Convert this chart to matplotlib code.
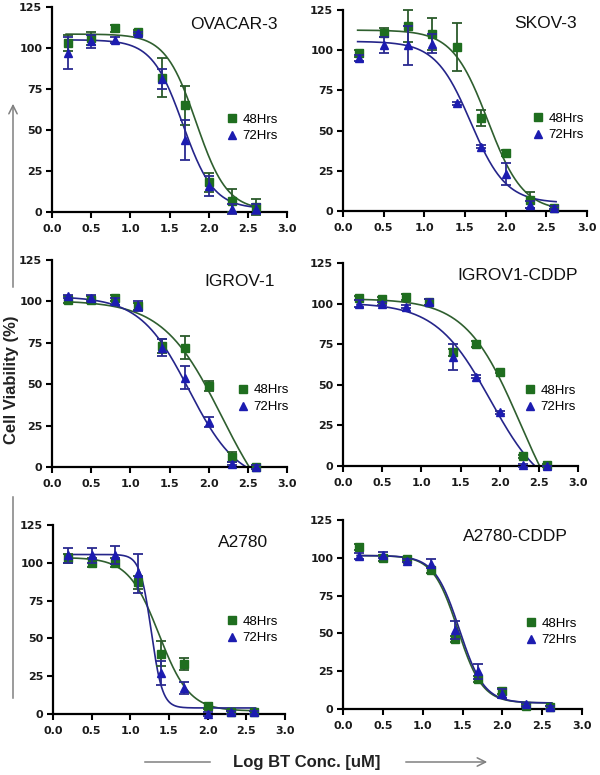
import numpy as np
import matplotlib
matplotlib.use("Agg")
import matplotlib.pyplot as plt
from matplotlib.lines import Line2D
from matplotlib.patches import FancyArrowPatch

# log concentration of BT (uM)
log_conc = [0.2, 0.5, 0.8, 1.1, 1.4, 1.7, 2.0, 2.3, 2.6]

cell_lines = ["OVACAR-3", "SKOV-3", "IGROV-1", "IGROV1-CDDP", "A2780", "A2780-CDDP"]

# mean viability (%) and error, 48 hrs
via_48 = [
    [103, 106, 112, 110, 82, 65, 18, 7, 3],
    [98, 111, 115, 110, 102, 58, 36, 7, 2],
    [101, 101, 102, 97, 73, 72, 49, 6, 0],
    [103.5, 103, 104, 101, 70, 75, 58, 6, 0.5],
    [103, 100, 100, 87, 40, 33, 5, 1, 1],
    [107, 100, 99, 92, 46, 20, 12, 2, 1],
]
err_48 = [
    [5, 4, 2, 1, 12, 12, 6, 7, 5],
    [2, 3, 10, 10, 15, 5, 2, 5, 1],
    [2, 2, 2, 2, 4, 7, 3, 3, 1],
    [1, 1, 2, 2, 2, 2, 1, 1, 1],
    [3, 3, 3, 4, 8, 4, 2, 1, 1],
    [2, 2, 1, 2, 2, 2, 2, 1, 1],
]

# mean viability (%) and error, 72 hrs
via_72 = [
    [97, 104, 105, 109, 81, 44, 16, 2, 2],
    [95, 103, 103, 104, 67, 40, 23, 4, 2],
    [103, 102, 100, 97, 72, 54, 27, 2, 0],
    [100, 100, 98, 101, 67, 55, 33, 0.5, 0],
    [105, 105, 105, 93, 27, 17, 0, 1, 1],
    [101, 102, 98, 96, 52, 25, 10, 3, 1],
]
err_72 = [
    [10, 4, 2, 1, 6, 12, 6, 3, 3],
    [2, 5, 12, 6, 1, 1, 7, 2, 1],
    [1, 2, 2, 3, 5, 7, 3, 1, 1],
    [2, 1, 1, 2, 8, 1, 1, 1, 0],
    [5, 5, 6, 13, 8, 4, 1, 1, 1],
    [2, 2, 1, 3, 6, 5, 3, 1, 1],
]

# fitted dose-response curves: top, bottom, logIC50, hill slope
fit_48 = [
    (108.5, 1, 1.84, 2.2),
    (112.5, 0, 1.78, 2.0),
    (100.5, -40, 2.17, 1.15),
    (103, -50, 2.26, 1.255),
    (103.5, 2, 1.37, 2.2),
    (101.5, 4, 1.44, 2.8),
]
fit_72 = [
    (105, 2, 1.67, 2.2),
    (105.5, 5, 1.57, 2.0),
    (103, -10, 1.749, 1.386),
    (100.5, -20, 1.885, 1.24),
    (105.5, 4, 1.27, 6.0),
    (101.5, 4, 1.46, 2.8),
]

W, H = 600, 775
# axes boxes in pixels: left, right, top, bottom
boxes = [(52, 287, 7, 212), (343, 587, 10, 211),
         (52, 287, 260, 467), (343, 578, 263, 466),
         (53, 285, 525, 714), (343, 582, 520, 709)]
title_pos = [(0.96, 0.917), (0.96, 0.935), (0.95, 0.894),
             (1.0, 0.936), (0.927, 0.905), (0.94, 0.915)]
legend_pos = [(0.743, 0.481), (0.777, 0.491), (0.790, 0.40),
              (0.773, 0.402), (0.749, 0.522), (0.764, 0.485)]

GREEN = "#1f6e1f"
GREEN_LINE = "#2f5f2f"
BLUE = "#1c1cb0"
BLUE_LINE = "#25258a"


def four_pl(x, top, bottom, logic50, hill):
    return bottom + (top - bottom) / (1 + 10 ** ((x - logic50) * hill))


fig = plt.figure(figsize=(W / 100, H / 100), dpi=100)
xs = np.linspace(0.18, 2.62, 300)

for i, name in enumerate(cell_lines):
    l, r, t, b = boxes[i]
    ax = fig.add_axes([l / W, 1 - b / H, (r - l) / W, (b - t) / H])

    ax.plot(xs, four_pl(xs, *fit_48[i]), color=GREEN_LINE, lw=1.2, zorder=2)
    ax.plot(xs, four_pl(xs, *fit_72[i]), color=BLUE_LINE, lw=1.2, zorder=2)

    ax.errorbar(log_conc, via_48[i], yerr=err_48[i], fmt="s", color=GREEN,
                ms=5.5, ecolor="#2b5a2b", elinewidth=1.3, capsize=3.5,
                capthick=1.3, clip_on=False, zorder=3)
    ax.errorbar(log_conc, via_72[i], yerr=err_72[i], fmt="^", color=BLUE,
                ms=5.5, ecolor="#2a2a90", elinewidth=1.3, capsize=3.5,
                capthick=1.3, clip_on=False, zorder=4)

    ax.set_xlim(0, 3)
    ax.set_ylim(0, 125)
    ax.set_xticks([0.0, 0.5, 1.0, 1.5, 2.0, 2.5, 3.0])
    ax.set_xticklabels(["0.0", "0.5", "1.0", "1.5", "2.0", "2.5", "3.0"])
    ax.set_yticks([0, 25, 50, 75, 100, 125])
    for side in ["top", "right"]:
        ax.spines[side].set_visible(False)
    for side in ["left", "bottom"]:
        ax.spines[side].set_linewidth(1.6)
    ax.tick_params(direction="out", length=4, width=1.5, pad=3)
    ax.tick_params(axis="x", pad=4.5)
    for lab in ax.get_xticklabels() + ax.get_yticklabels():
        lab.set_fontfamily("DejaVu Sans")
        lab.set_fontweight("bold")
        lab.set_fontsize(8)
        lab.set_color("#1a1a1a")

    tx, ty = title_pos[i]
    ax.text(tx, ty, name, transform=ax.transAxes, ha="right", va="center",
            fontsize=12.5, family="Liberation Sans", color="#111111")

    handles = [Line2D([], [], marker="s", ls="none", color=GREEN, ms=5.5),
               Line2D([], [], marker="^", ls="none", color=BLUE, ms=5.5)]
    ax.legend(handles, ["48Hrs", "72Hrs"], loc="upper left",
              bbox_to_anchor=legend_pos[i], frameon=False, borderpad=0,
              borderaxespad=0, handlelength=0.8, handletextpad=0.4,
              labelspacing=0.35, prop={"family": "Liberation Sans", "size": 9.5})

# shared axis labels with arrows
grey = "#808080"
fig.text(12 / W, 1 - 380 / H, "Cell Viability (%)", rotation=90, ha="center",
         va="center", fontsize=12, fontweight="bold", family="Liberation Sans",
         color="#222222")
fig.add_artist(FancyArrowPatch((13 / W, 1 - 290 / H), (13 / W, 1 - 101 / H),
                               transform=fig.transFigure, arrowstyle="->,head_length=6,head_width=3",
                               color=grey, lw=1.1))
fig.add_artist(Line2D([13 / W, 13 / W], [1 - 497 / H, 1 - 698 / H],
                      transform=fig.transFigure, color=grey, lw=1.1))

fig.text(307 / W, 1 - 762 / H, "Log BT Conc. [uM]", ha="center", va="center",
         fontsize=12, fontweight="bold", family="Liberation Sans", color="#222222")
fig.add_artist(Line2D([145 / W, 210 / W], [1 - 762 / H, 1 - 762 / H],
                      transform=fig.transFigure, color=grey, lw=1.1))
fig.add_artist(FancyArrowPatch((403 / W, 1 - 762 / H), (490 / W, 1 - 762 / H),
                               transform=fig.transFigure, arrowstyle="->,head_length=6,head_width=3",
                               color=grey, lw=1.1))

fig.savefig("out.png", dpi=100)
